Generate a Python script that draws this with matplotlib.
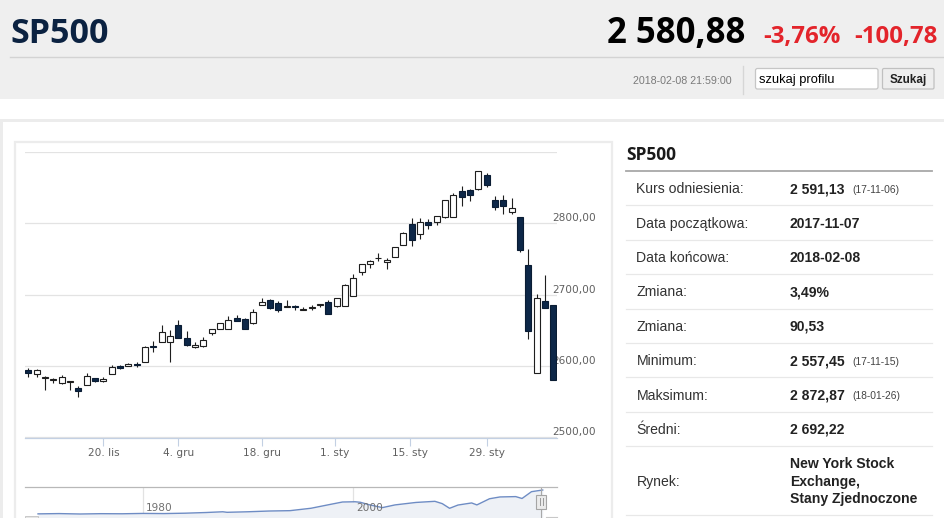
import numpy as np
import pandas as pd
import matplotlib
matplotlib.use("Agg")
import matplotlib.pyplot as plt
import matplotlib.transforms as mtransforms
from matplotlib.patches import Rectangle, FancyBboxPatch

W, H = 945, 518

# --- dane notowan SP500 (dzienne OHLC) ---
dates = ["2017-11-07", "2017-11-08", "2017-11-09", "2017-11-10", "2017-11-13", "2017-11-14",
         "2017-11-15", "2017-11-16", "2017-11-17", "2017-11-20", "2017-11-21", "2017-11-22",
         "2017-11-24", "2017-11-27", "2017-11-28", "2017-11-29", "2017-11-30", "2017-12-01",
         "2017-12-04", "2017-12-05", "2017-12-06", "2017-12-07", "2017-12-08", "2017-12-11",
         "2017-12-12", "2017-12-13", "2017-12-14", "2017-12-15", "2017-12-18", "2017-12-19",
         "2017-12-20", "2017-12-21", "2017-12-22", "2017-12-26", "2017-12-27", "2017-12-28",
         "2017-12-29", "2018-01-02", "2018-01-03", "2018-01-04", "2018-01-05", "2018-01-08",
         "2018-01-09", "2018-01-10", "2018-01-11", "2018-01-12", "2018-01-16", "2018-01-17",
         "2018-01-18", "2018-01-19", "2018-01-22", "2018-01-23", "2018-01-24", "2018-01-25",
         "2018-01-26", "2018-01-29", "2018-01-30", "2018-01-31", "2018-02-01", "2018-02-02",
         "2018-02-05", "2018-02-06", "2018-02-07", "2018-02-08"]
opens = [2594.4, 2588.7, 2584.0, 2580.2, 2576.5, 2577.8, 2569.4, 2572.9, 2582.9, 2579.5,
         2589.2, 2600.3, 2600.4, 2602.7, 2605.9, 2627.8, 2633.9, 2633.9, 2657.2, 2639.8,
         2626.2, 2628.4, 2646.2, 2652.2, 2652.2, 2667.6, 2665.9, 2660.6, 2685.9, 2692.7,
         2688.2, 2683.0, 2684.2, 2679.1, 2682.1, 2686.1, 2689.2, 2683.7, 2683.7, 2697.9,
         2731.3, 2742.7, 2751.2, 2745.6, 2753.0, 2770.2, 2799.0, 2785.0, 2802.4, 2802.6,
         2809.2, 2809.2, 2845.4, 2846.2, 2847.5, 2867.2, 2832.7, 2832.4, 2816.5, 2808.9,
         2741.1, 2590.0, 2691.0, 2685.0]
highs = [2597.0, 2595.5, 2586.5, 2583.8, 2587.7, 2579.7, 2572.8, 2590.1, 2584.0, 2584.6,
         2601.2, 2600.9, 2604.2, 2606.4, 2627.7, 2634.9, 2657.7, 2650.6, 2665.2, 2648.7,
         2634.4, 2641.0, 2651.7, 2660.3, 2669.7, 2671.9, 2668.1, 2679.6, 2695.0, 2694.4,
         2691.0, 2692.6, 2685.4, 2682.7, 2685.6, 2687.7, 2692.1, 2695.9, 2714.4, 2729.3,
         2743.5, 2748.5, 2759.1, 2750.8, 2767.6, 2787.9, 2807.5, 2807.0, 2805.8, 2810.3,
         2833.0, 2842.2, 2853.0, 2848.6, 2872.9, 2870.6, 2837.8, 2839.3, 2836.0, 2808.9,
         2763.4, 2701.0, 2727.7, 2685.3]
lows = [2584.4, 2585.0, 2566.3, 2576.3, 2574.5, 2566.6, 2557.4, 2572.9, 2577.6, 2578.2,
        2589.2, 2596.5, 2600.4, 2598.9, 2605.4, 2620.3, 2633.9, 2605.5, 2639.0, 2627.7,
        2624.8, 2626.5, 2644.1, 2651.5, 2660.4, 2662.9, 2652.0, 2659.1, 2685.9, 2680.7,
        2676.1, 2682.4, 2678.1, 2678.0, 2678.9, 2682.7, 2673.6, 2682.4, 2697.8, 2719.1,
        2727.9, 2737.6, 2747.9, 2736.1, 2752.8, 2769.6, 2768.6, 2778.4, 2792.6, 2798.1,
        2808.1, 2830.6, 2824.8, 2830.9, 2846.2, 2851.5, 2818.3, 2813.0, 2812.7, 2760.0,
        2638.2, 2593.1, 2681.3, 2580.6]
closes = [2590.6, 2594.4, 2584.6, 2582.3, 2584.8, 2578.9, 2564.6, 2585.6, 2578.9, 2582.1,
          2599.0, 2597.1, 2602.4, 2601.4, 2627.0, 2626.1, 2647.6, 2642.2, 2639.4, 2629.6,
          2629.3, 2637.0, 2651.5, 2660.0, 2664.1, 2662.9, 2652.0, 2675.8, 2690.2, 2681.5,
          2679.1, 2684.6, 2683.3, 2680.5, 2682.6, 2687.5, 2673.6, 2695.8, 2713.1, 2724.0,
          2743.2, 2747.7, 2751.3, 2748.2, 2767.6, 2786.2, 2776.4, 2802.6, 2798.0, 2810.3,
          2833.0, 2839.1, 2837.5, 2839.3, 2872.9, 2853.5, 2822.4, 2823.8, 2822.0, 2762.1,
          2648.9, 2695.1, 2681.7, 2581.0]

tick_dates = ["2017-11-20", "2017-12-04", "2017-12-18", "2018-01-01", "2018-01-15", "2018-01-29"]
tick_labels = ["20. lis", "4. gru", "18. gru", "1. sty", "15. sty", "29. sty"]
y_levels = [2500, 2600, 2700, 2800, 2900]
y_labels = ["2500,00", "2600,00", "2700,00", "2800,00"]

# nawigator - historia indeksu (szacunkowo)
nav_years = [1970, 1972, 1974, 1976, 1978, 1980, 1982, 1984, 1986, 1987.6, 1988, 1990,
             1992, 1994, 1996, 1998, 1999, 2000.2, 2000.7, 2001.5, 2002.8, 2004, 2006,
             2007.8, 2008.5, 2009.2, 2010, 2011.3, 2011.8, 2013, 2014, 2015.5, 2016.1,
             2017, 2018.07]
nav_values = [85, 118, 70, 107, 96, 136, 120, 164, 242, 330, 267, 330, 417, 459, 740,
              1229, 1469, 1498, 1436, 1160, 815, 1130, 1418, 1549, 1280, 735, 1115, 1360,
              1130, 1848, 2059, 2100, 1880, 2674, 2870]
nav_ticks = [1980, 2000]

# naglowek
ticker = "SP500"
last_price = "2 580,88"
change_pct = "-3,76%"
change_abs = "-100,78"
timestamp = "2018-02-08 21:59:00"

# tabela
row_labels = ["Kurs odniesienia:", "Data początkowa:", "Data końcowa:", "Zmiana:", "Zmiana:",
              "Minimum:", "Maksimum:", "Średni:", "Rynek:"]
row_values = ["2 591,13", "2017-11-07", "2018-02-08", "3,49%", "90,53", "2 557,45",
              "2 872,87", "2 692,22", "New York Stock\nExchange,\nStany Zjednoczone"]
row_notes = ["(17-11-06)", "", "", "", "", "(17-11-15)", "(18-01-26)", "", ""]

ARIAL = "Liberation Sans"
OPEN = "Open Sans"
NAVY = "#0d2748"

fig = plt.figure(figsize=(W / 100, H / 100), dpi=100)
fig.patch.set_facecolor("white")

# tlo strony w pikselach
bg = fig.add_axes([0, 0, 1, 1])
bg.set_xlim(0, W)
bg.set_ylim(H, 0)
bg.axis("off")

bg.add_patch(Rectangle((0, 0), W, 99, fc="#efefef", ec="none"))
bg.plot([10, W], [57.3, 57.3], color="#d3d3d3", lw=1)
bg.add_patch(Rectangle((0, 118.5), W, 3.2, fc="#ececec", ec="none"))
bg.add_patch(Rectangle((0, 118.5), 3, H, fc="#ececec", ec="none"))
bg.add_patch(Rectangle((14.5, 141.5), 597, 400, fc="white", ec="#ececec", lw=1.6))

bg.text(10, 43, ticker, fontsize=24.5, fontweight="bold", family=OPEN, color="#0b2241")
bg.text(607, 43, last_price, fontsize=25, fontweight="bold", family=OPEN, color="black")
bg.text(763, 42.5, change_pct, fontsize=17.3, fontweight="bold", family=OPEN, color="#e3242b")
bg.text(854, 42.5, change_abs, fontsize=17.3, fontweight="bold", family=OPEN, color="#e3242b")

bg.text(732, 83.8, timestamp, fontsize=7.7, family=ARIAL, color="#7a7a7a", ha="right")
bg.plot([742.7, 742.7], [66, 94], color="#d6d6d6", lw=1)
bg.add_patch(FancyBboxPatch((755.5, 68.5), 122.5, 20.5, boxstyle="round,pad=0,rounding_size=2",
                            fc="white", ec="#c6c6c6", lw=0.9))
bg.text(759, 83.5, "szukaj profilu", fontsize=9.3, family=ARIAL, color="black")
bg.add_patch(FancyBboxPatch((882.5, 68.5), 51.5, 20.5, boxstyle="round,pad=0,rounding_size=1.5",
                            fc="#eeeeee", ec="#c0c0c0", lw=0.9))
bg.text(908.5, 83.3, "Szukaj", fontsize=8.4, fontweight="bold", family=ARIAL, color="#222222",
        ha="center")

# tabela po prawej
bg.text(626, 160, ticker, fontsize=12.5, fontweight="bold", family=OPEN, color="#1a1a1a")
bg.plot([626, 932], [171, 171], color="#a8a8a8", lw=1.3)
row_h = 34.4
top = 171
for i, (lab, val, note) in enumerate(zip(row_labels, row_values, row_notes)):
    h = row_h * (2 if "\n" in val else 1)
    cy = top + h / 2
    bg.text(636.5, cy + 5, lab, fontsize=10.1, family=ARIAL, color="#333333")
    lines = val.split("\n")
    for j, line in enumerate(lines):
        ly = cy + (j - (len(lines) - 1) / 2) * 17.5
        bg.text(790, ly + 5, line, fontsize=10.1, fontweight="bold", family=ARIAL,
                color="#222222")
    if note:
        bg.text(852, cy + 4.5, note, fontsize=7.4, family=ARIAL, color="#444444")
    top += h
    bg.plot([626, 932], [top, top], color="#e8e8e8", lw=0.9)

# --- wykres swiecowy ---
x0, x1, y_top, y_bot = 25, 557, 152, 437.5
ax = fig.add_axes([x0 / W, 1 - y_bot / H, (x1 - x0) / W, (y_bot - y_top) / H])
ax.patch.set_alpha(0)

o = np.array(opens)
h_ = np.array(highs)
l_ = np.array(lows)
c = np.array(closes)
idx = np.arange(len(dates))
body_lo = np.minimum(o, c)
body_hi = np.maximum(o, c)
up = c >= o

ax.vlines(idx, body_hi, h_, color="#1e1e1e", lw=0.8, zorder=3)
ax.vlines(idx, body_lo, l_, color="#1e1e1e", lw=0.8, zorder=3)
ax.bar(idx, body_hi - body_lo, bottom=body_lo, width=0.72,
       color=np.where(up, "white", NAVY), edgecolor=np.where(up, "#1e1e1e", "#0a1c33"),
       linewidth=0.8, zorder=4)

ax.set_xlim(-0.4, 63.44)
ax.set_ylim(2500, 2900)
ax.set_yticks(y_levels)
ax.yaxis.grid(True, color="#e3e3e3", lw=0.9)
ax.set_axisbelow(True)
ax.tick_params(axis="y", length=0, labelleft=False)
for s in ["top", "left", "right"]:
    ax.spines[s].set_visible(False)
ax.spines["bottom"].set_color("#c3d0e3")
ax.spines["bottom"].set_linewidth(0.9)
ax.spines["bottom"].set_zorder(5)

day_num = pd.to_datetime(dates).map(pd.Timestamp.toordinal).to_numpy()
tick_num = pd.to_datetime(tick_dates).map(pd.Timestamp.toordinal).to_numpy()
tick_pos = np.interp(tick_num, day_num, idx)
ax.set_xticks(tick_pos, tick_labels)
ax.tick_params(axis="x", direction="out", length=5.8, width=0.8, color="#c3d0e3",
               labelsize=7.6, labelcolor="#606060", pad=1.5)
for lbl in ax.get_xticklabels():
    lbl.set_family("DejaVu Sans")

lab_tr = mtransforms.offset_copy(ax.get_yaxis_transform(), fig=fig, x=0, y=2.2, units="dots")
for v, s in zip(y_levels, y_labels):
    ax.text(1 + (596 - x1) / (x1 - x0), v, s, transform=lab_tr, ha="right", va="baseline",
            fontsize=7.6, family="DejaVu Sans", color="#606060", clip_on=False)

# --- nawigator ---
n_top = 487
nav = fig.add_axes([x0 / W, 0, (x1 - x0) / W, (H - n_top) / H])
nav.patch.set_alpha(0)
nav.set_xlim(1968.76, 2019.43)
nav.set_ylim(-397, 3220)
nav.fill_between(nav_years, nav_values, -397, color="#eef1f6", lw=0)
nav.plot(nav_years, nav_values, color="#6e8cc4", lw=1.0)
for yr in nav_ticks:
    nav.axvline(yr, color="#e2e2e2", lw=0.9, zorder=0)
    nav.text(yr, 0.31, str(yr), transform=mtransforms.offset_copy(
        nav.get_xaxis_transform(), fig=fig, x=3, y=0, units="dots"),
        va="center", ha="left", fontsize=7.6, family="DejaVu Sans", color="#707070")
nav.set_xticks([])
nav.set_yticks([])
for s in ["left", "right", "bottom"]:
    nav.spines[s].set_visible(False)
nav.spines["top"].set_color("#b8b8b8")
nav.spines["top"].set_linewidth(0.9)

# uchwyt zakresu i pasek przewijania (warstwa na wierzchu)
fg = fig.add_axes([0, 0, 1, 1])
fg.set_xlim(0, W)
fg.set_ylim(H, 0)
fg.axis("off")
fg.patch.set_alpha(0)

end_year = nav_years[-1]
nav.axvline(end_year - 0.15, color="#a9a9a9", lw=0.8)
hx = x0 + (end_year - 0.15 - 1968.76) / (2019.43 - 1968.76) * (x1 - x0)
fg.add_patch(Rectangle((hx - 5.3, 494.5), 10.6, 14, fc="#ebebeb", ec="#a5a5a5", lw=0.8))
fg.plot([hx - 1.5, hx - 1.5], [498, 505], color="#999999", lw=0.7)
fg.plot([hx + 1.5, hx + 1.5], [498, 505], color="#999999", lw=0.7)
fg.add_patch(Rectangle((25, 515.7), 13, 4, fc="#e6e6e6", ec="#c8c8c8", lw=0.7))
fg.plot([hx + 5.3, x1], [516.6, 516.6], color="#c8c8c8", lw=0.8)

fig.savefig("out.png", dpi=100)
